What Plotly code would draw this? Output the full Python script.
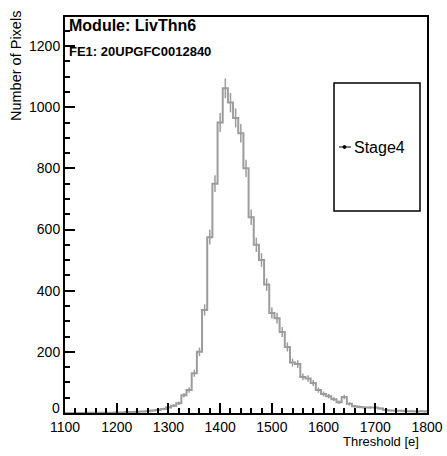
import numpy as np
import plotly.graph_objects as go

# ---- data ----
bin_width = 10
bin_centers = list(range(1100, 1801, 10))
counts = [0, 0, 0, 0, 0, 1, 0, 1, 1, 1,
          2, 2, 3, 3, 4, 5, 6, 8, 10, 13,
          18, 24, 32, 58, 75, 130, 200, 337, 575, 750,
          950, 1062, 1015, 965, 915, 800, 640, 550, 500, 420,
          327, 310, 265, 216, 165, 160, 118, 113, 98, 75,
          62, 55, 45, 35, 52, 30, 22, 20, 18, 18,
          18, 15, 10, 8, 7, 7, 6, 6, 5, 6, 5]
series_name = "Stage4"
x_ticks = [1100, 1200, 1300, 1400, 1500, 1600, 1700, 1800]
y_ticks = [0, 200, 400, 600, 800, 1000, 1200]

# ---- figure ----
W, H = 447, 456
L, R, T, B = 65, 20, 17, 43
pw, ph = W - L - R, H - T - B

def px(xp):
    return (xp - L) / pw

def py(yp):
    return (H - B - yp) / ph

centers = np.array(bin_centers, dtype=float)
vals = np.array(counts, dtype=float)
edges = np.append(centers - bin_width / 2, centers[-1] + bin_width / 2)
step_y = np.append(vals, vals[-1])

gray = "#9c9c9c"
font_family = "Liberation Sans, Arial, sans-serif"

fig = go.Figure()
fig.add_trace(go.Scatter(
    x=edges, y=step_y, mode="lines", line=dict(shape="hv", color=gray, width=2),
    name=series_name, showlegend=False, hoverinfo="skip"))
fig.add_trace(go.Scatter(
    x=centers, y=vals, mode="markers", marker=dict(size=1, color=gray),
    error_y=dict(type="data", array=np.sqrt(vals), color=gray, thickness=1.5, width=0),
    showlegend=False, hoverinfo="skip"))

fig.update_layout(
    width=W, height=H,
    margin=dict(l=L, r=R, t=T, b=B, autoexpand=False),
    paper_bgcolor="white", plot_bgcolor="white",
    font=dict(family=font_family, size=14, color="black"),
    showlegend=False,
)
fig.update_xaxes(
    range=[1100, 1800], tickmode="array", tickvals=x_ticks,
    ticks="inside", ticklen=10, tickwidth=1.5, tickcolor="black",
    showline=True, linecolor="black", linewidth=2, mirror=True,
    showgrid=False, zeroline=False, automargin=False,
    tickfont=dict(size=14, family=font_family),
    minor=dict(ticks="inside", dtick=20, ticklen=5, tickwidth=1.5, tickcolor="black", showgrid=False),
)
# the "0" label is drawn separately (lifted like in the reference)
fig.update_yaxes(
    range=[0, 1295], tickmode="array", tickvals=y_ticks[1:],
    ticks="inside", ticklen=10, tickwidth=1.5, tickcolor="black",
    showline=True, linecolor="black", linewidth=2, mirror=True,
    showgrid=False, zeroline=False, automargin=False,
    tickfont=dict(size=14, family=font_family),
    minor=dict(ticks="inside", dtick=50, ticklen=5, tickwidth=1.5, tickcolor="black", showgrid=False),
)
fig.add_annotation(text=str(y_ticks[0]), xref="paper", yref="y",
                   x=px(62), y=y_ticks[0], yshift=5, xanchor="right", yanchor="middle",
                   showarrow=False, font=dict(size=14, family=font_family))

# titles and labels
fig.add_annotation(text="<b>Module: LivThn6</b>", xref="paper", yref="paper",
                   x=px(67), y=py(25), xanchor="left", yanchor="middle",
                   showarrow=False, font=dict(size=16, family=font_family))
fig.add_annotation(text="<b>FE1: 20UPGFC0012840</b>", xref="paper", yref="paper",
                   x=px(67), y=py(51), xanchor="left", yanchor="middle",
                   showarrow=False, font=dict(size=13, family=font_family))
fig.add_annotation(text="Number of Pixels", xref="paper", yref="paper",
                   x=px(16), y=py(9), xanchor="center", yanchor="top", textangle=-90,
                   showarrow=False, font=dict(size=14.5, family=font_family))
fig.add_annotation(text="Threshold [e]", xref="paper", yref="paper",
                   x=px(421), y=py(441), xanchor="right", yanchor="middle",
                   showarrow=False, font=dict(size=13, family=font_family))

# legend box
fig.add_shape(type="rect", xref="paper", yref="paper",
              x0=px(334), x1=px(420), y0=py(211), y1=py(83),
              line=dict(color="black", width=1.5), fillcolor="white", layer="above")
fig.add_shape(type="line", xref="paper", yref="paper",
              x0=px(339), x1=px(351), y0=py(147), y1=py(147),
              line=dict(color="black", width=1), layer="above")
fig.add_shape(type="circle", xref="paper", yref="paper",
              x0=px(343), x1=px(346), y0=py(148.5), y1=py(145.5),
              line=dict(color="black", width=1), fillcolor="black", layer="above")
fig.add_annotation(text=series_name, xref="paper", yref="paper",
                   x=px(352), y=py(147), xanchor="left", yanchor="middle",
                   showarrow=False, font=dict(size=16, family=font_family))

fig.write_html("out.html", config={"displayModeBar": False})

# remove the browser's default page margin so the figure sits at the window corner
with open("out.html", "r", encoding="utf-8") as f:
    html = f.read()
html = html.replace("<body>", '<body style="margin:0;padding:0;">', 1)
with open("out.html", "w", encoding="utf-8") as f:
    f.write(html)
